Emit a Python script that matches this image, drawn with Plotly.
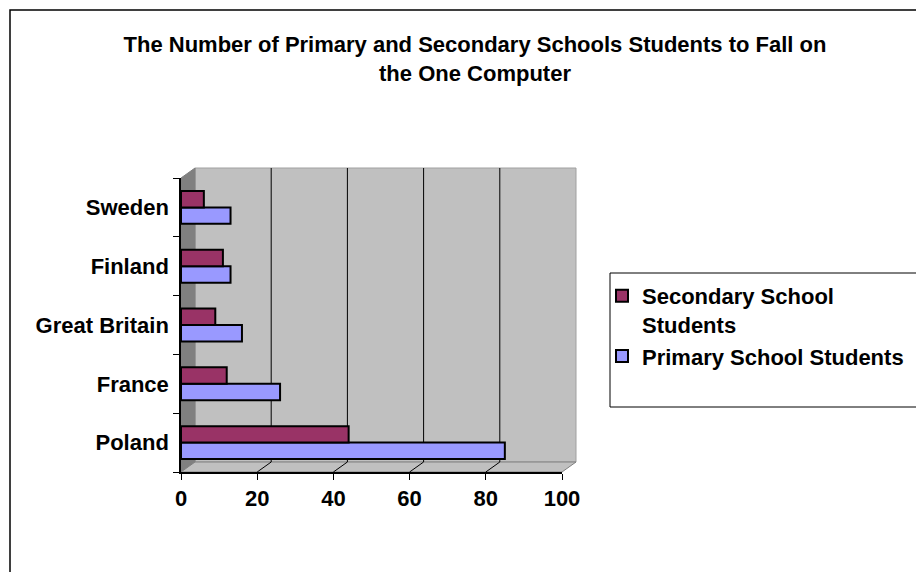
import plotly.graph_objects as go

countries = ["Poland", "France", "Great Britain", "Finland", "Sweden"]
primary = [85, 26, 16, 13, 13]
secondary = [44, 12, 9, 11, 6]
x_ticks = [0, 20, 40, 60, 80, 100]

W, H = 916, 572
# front plane of the 3-D plot box (pixels)
FX0, FX1, FY0, FY1 = 181, 562, 178, 472
DX, DY = 14, 10  # depth offset of the back wall
L, R, T, B = FX0, W - FX1, FY0, H - FY1
FONT = "Liberation Sans"

pw = W - L - R
ph = H - T - B
def px(p):
    return (p - L) / pw
def py(p):
    return 1 - (p - T) / ph
def path(points):
    return "M " + " L ".join(f"{px(a):.5f},{py(b):.5f}" for a, b in points) + " Z"

fig = go.Figure()
fig.add_trace(go.Bar(
    y=countries, x=primary, orientation="h", name="<b>Primary School Students</b>",
    marker=dict(color="#9999FF", line=dict(color="black", width=2)),
))
fig.add_trace(go.Bar(
    y=countries, x=secondary, orientation="h", name="<b>Secondary School<br>Students</b>",
    marker=dict(color="#993366", line=dict(color="black", width=2)),
))

shapes = [
    # outer chart border
    dict(type="rect", xref="paper", yref="paper", x0=px(10), x1=px(935),
         y0=py(590), y1=py(10), line=dict(color="black", width=1.5), layer="below"),
    # back wall
    dict(type="rect", xref="paper", yref="paper", x0=px(FX0 + DX), x1=px(FX1 + DX),
         y0=py(FY1 - DY), y1=py(FY0 - DY), fillcolor="#C0C0C0",
         line=dict(color="#A0A0A0", width=1), layer="below"),
    # left wall
    dict(type="path", xref="paper", yref="paper",
         path=path([(FX0, FY0), (FX0 + DX, FY0 - DY), (FX0 + DX, FY1 - DY), (FX0, FY1)]),
         fillcolor="#808080", line=dict(color="#808080", width=1), layer="below"),
    # floor
    dict(type="path", xref="paper", yref="paper",
         path=path([(FX0, FY1), (FX0 + DX, FY1 - DY), (FX1 + DX, FY1 - DY), (FX1, FY1)]),
         fillcolor="#C0C0C0", line=dict(color="#808080", width=1), layer="below"),
    # legend box
    dict(type="rect", xref="paper", yref="paper", x0=px(610), x1=px(935),
         y0=py(407), y1=py(273), fillcolor="white",
         line=dict(color="black", width=1), layer="below"),
]
for v in x_ticks[1:]:
    # gridline on back wall
    shapes.append(dict(type="line", xref="x", yref="paper", xsizemode="pixel", xanchor=v,
                       x0=DX, x1=DX, y0=py(FY1 - DY), y1=py(FY0 - DY),
                       line=dict(color="black", width=1), layer="below"))
    # depth line on floor
    shapes.append(dict(type="line", xref="x", yref="paper", xsizemode="pixel", xanchor=v,
                       x0=0, x1=DX, y0=py(FY1), y1=py(FY1 - DY),
                       line=dict(color="black", width=1), layer="below"))

fig.update_layout(
    width=W, height=H,
    margin=dict(l=L, r=R, t=T, b=B),
    paper_bgcolor="white",
    plot_bgcolor="rgba(0,0,0,0)",
    barmode="group",
    bargap=0.44,
    bargroupgap=0.0,
    font=dict(family=FONT, color="black", size=22),
    title=dict(
        text="<b>The Number of Primary and Secondary Schools Students to Fall on<br>the One Computer</b>",
        x=475 / W, xref="container", xanchor="center",
        y=1 - 52 / H, yref="container", yanchor="top",
        font=dict(family=FONT, size=22, color="black"),
    ),
    xaxis=dict(
        range=[0, 100], tickvals=x_ticks, ticktext=[f"<b>{v}</b>" for v in x_ticks],
        showgrid=False,
        ticks="outside", ticklen=6, tickcolor="black",
        showline=True, linecolor="black", linewidth=1.5,
        zeroline=False, tickfont=dict(size=22), ticklabelstandoff=0,
    ),
    yaxis=dict(
        categoryorder="array", categoryarray=countries,
        tickvals=countries, ticktext=[f"<b>{c}</b>" for c in countries],
        ticks="outside", ticklen=6, tickcolor="black", tickson="boundaries",
        showline=True, linecolor="black", linewidth=1.5,
        showgrid=False, tickfont=dict(size=22), ticklabelstandoff=6,
    ),
    legend=dict(
        xref="container", yref="container",
        x=602 / W, y=1 - 275 / H, xanchor="left", yanchor="top",
        borderwidth=0, bgcolor="rgba(0,0,0,0)",
        traceorder="reversed", font=dict(size=22),
        itemwidth=30, tracegroupgap=8, valign="top",
    ),
    shapes=shapes,
)

fig.write_html("out.html")
